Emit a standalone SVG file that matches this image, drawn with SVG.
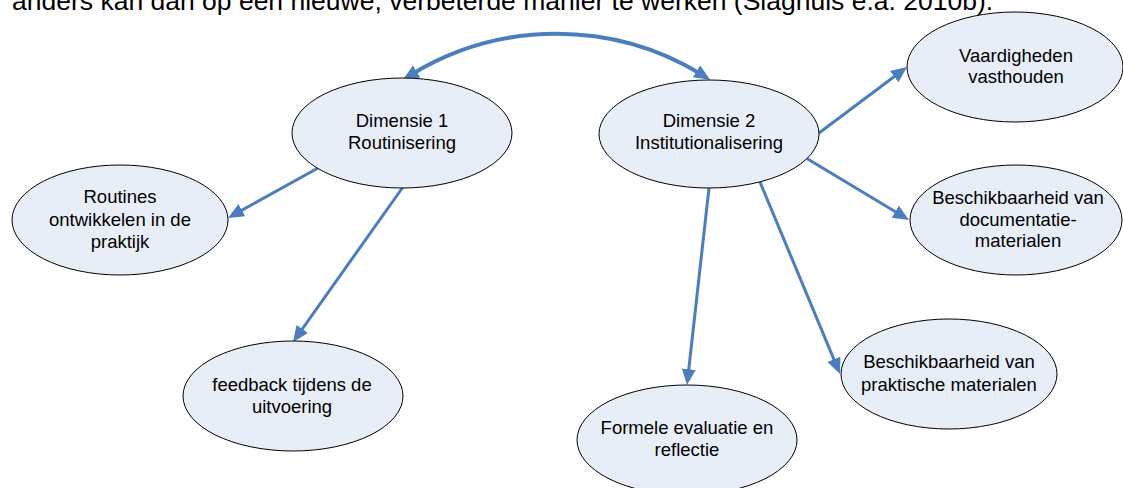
<svg xmlns="http://www.w3.org/2000/svg" width="1123" height="488" viewBox="0 0 1123 488">
<style>
.n{fill:#e8eef8;stroke:#000;stroke-width:1}
.t{font-family:"Liberation Sans",Arial,sans-serif;font-size:18.5px;fill:#000;text-anchor:middle}
.c{fill:none;stroke:#4a7ebf;stroke-width:3}
.top{font-family:"Liberation Sans",Arial,sans-serif;font-size:26.5px;fill:#000}
</style>
<defs>
<marker id="ah" markerUnits="userSpaceOnUse" markerWidth="20" markerHeight="16" refX="6" refY="7" orient="auto-start-reverse" viewBox="0 0 20 16">
<path d="M0,0 L16,7 L0,14 z" fill="#4a7ebf"/>
</marker>
</defs>
<rect width="1123" height="488" fill="#fff"/>
<text class="top" x="12" y="10">anders kan dan op een nieuwe, verbeterde manier te werken (Slaghuis e.a. 2010b).</text>
<g id="connectors">
<path class="c" style="stroke-width:4" d="M411.4 74.5 A279 279 0 0 1 701.6 74.5" marker-start="url(#ah)" marker-end="url(#ah)"/>
<line class="c" x1="318" y1="168" x2="236.7" y2="213.1" marker-end="url(#ah)"/>
<line class="c" x1="403" y1="187" x2="298.8" y2="333.8" marker-end="url(#ah)"/>
<line class="c" x1="819" y1="133" x2="899" y2="73" marker-end="url(#ah)"/>
<line class="c" x1="806" y1="158" x2="900.4" y2="214.8" marker-end="url(#ah)"/>
<line class="c" x1="709" y1="188" x2="688.1" y2="375.1" marker-end="url(#ah)"/>
<line class="c" x1="760" y1="182" x2="836.2" y2="364.8" marker-end="url(#ah)"/>
</g>
<g id="dim1">
<ellipse class="n" cx="402" cy="133" rx="110" ry="55"/>
<text class="t" x="402" y="127">Dimensie 1</text>
<text class="t" x="402" y="149">Routinisering</text>
</g>
<g id="dim2">
<ellipse class="n" cx="709" cy="134" rx="110" ry="54"/>
<text class="t" x="709" y="127">Dimensie 2</text>
<text class="t" x="709" y="149">Institutionalisering</text>
</g>
<g id="vaardigheden">
<ellipse class="n" cx="1015" cy="67" rx="108" ry="55"/>
<text class="t" x="1016" y="62">Vaardigheden</text>
<text class="t" x="1016" y="83">vasthouden</text>
</g>
<g id="documentatie">
<ellipse class="n" cx="1016" cy="220" rx="106" ry="55"/>
<text class="t" x="1018" y="204">Beschikbaarheid van</text>
<text class="t" x="1018" y="226">documentatie-</text>
<text class="t" x="1018" y="247">materialen</text>
</g>
<g id="routines">
<ellipse class="n" cx="120" cy="220" rx="108" ry="55"/>
<text class="t" x="120" y="203">Routines</text>
<text class="t" x="120" y="226">ontwikkelen in de</text>
<text class="t" x="120" y="248">praktijk</text>
</g>
<g id="feedback">
<ellipse class="n" cx="293" cy="396" rx="110" ry="55"/>
<text class="t" x="292" y="391">feedback tijdens de</text>
<text class="t" x="292" y="413">uitvoering</text>
</g>
<g id="formele">
<ellipse class="n" cx="687" cy="440" rx="110" ry="55"/>
<text class="t" x="687" y="434">Formele evaluatie en</text>
<text class="t" x="687" y="456">reflectie</text>
</g>
<g id="praktische">
<ellipse class="n" cx="949" cy="374" rx="108" ry="55"/>
<text class="t" x="949" y="368">Beschikbaarheid van</text>
<text class="t" x="949" y="391">praktische materialen</text>
</g>
</svg>
